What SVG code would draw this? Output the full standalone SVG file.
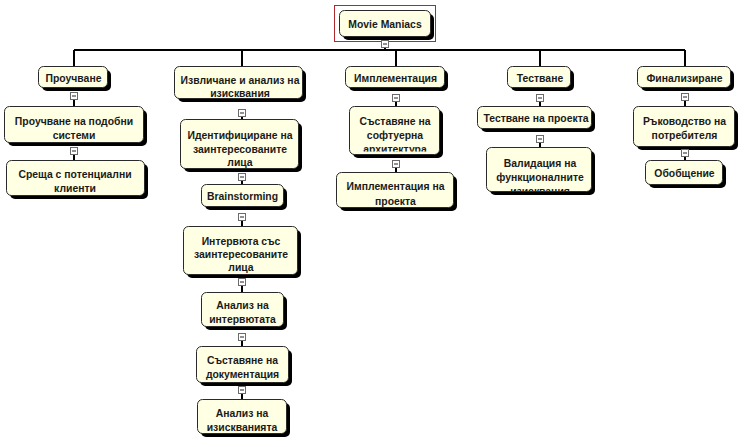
<svg xmlns="http://www.w3.org/2000/svg" width="748" height="447" viewBox="0 0 748 447">
<style>
.n{fill:#FFFFE3;stroke:#2a2a2a;stroke-width:1}
.s{fill:#000}
.t{font-family:"Liberation Sans",Arial,sans-serif;font-weight:bold;font-size:10.4px;fill:#1a1a1a;text-anchor:middle}
.c{stroke:#000;stroke-width:2;fill:none}
.cb{fill:#fff;stroke:#6a6a6a;stroke-width:1}
.cm{stroke:#222;stroke-width:1}
</style>
<defs>
<clipPath id="clipArch"><rect x="350" y="107" width="90" height="44.5"/></clipPath>
<clipPath id="clipVal"><rect x="487" y="148" width="105" height="43"/></clipPath>
</defs>
<rect width="748" height="447" fill="#fff"/>
<g id="connectors">
<path class="c" d="M385 46V50M74 50H685M74 50V67M242 50V67M396 50V67M540 50V67M685 50V67"/>
<path class="c" d="M74 99V107M74 154V161"/>
<path class="c" d="M242 116V120M242 180V185M242 220V227M242 284V293M242 340V347M242 393V400"/>
<path class="c" d="M396 101V107M396 167V173"/>
<path class="c" d="M540 101V107M540 142V148"/>
<path class="c" d="M685 100V107M685 156V161"/>
</g>
<g id="root">
<rect x="343" y="14" width="91" height="26" rx="5" class="s"/>
<rect x="339.5" y="10.5" width="91" height="26" rx="5" class="n"/>
<text x="385" y="27.5" class="t">Movie Maniacs</text>
<rect x="334.5" y="5.5" width="101" height="36" fill="none" stroke="#B0282E" stroke-width="1"/>
<rect x="381.5" y="40.5" width="7" height="7" class="cb"/><path class="cm" d="M383 44H387"/>
</g>
<g id="n1">
<rect x="42" y="70" width="69" height="21" rx="5" class="s"/>
<rect x="38.5" y="66.5" width="69" height="21" rx="5" class="n"/>
<text x="73.5" y="81.5" class="t">Проучване</text>
<rect x="70.5" y="92.5" width="7" height="7" class="cb"/><path class="cm" d="M72 96H76"/>
</g>
<g id="n1a">
<rect x="8" y="110" width="139" height="36" rx="5" class="s"/>
<rect x="4.5" y="106.5" width="139" height="36" rx="5" class="n"/>
<text x="74" y="124.5" class="t">Проучване на подобни</text>
<text x="74" y="138.5" class="t">системи</text>
<rect x="70.5" y="147.5" width="7" height="7" class="cb"/><path class="cm" d="M72 151H76"/>
</g>
<g id="n1b">
<rect x="10" y="164" width="138" height="35" rx="5" class="s"/>
<rect x="6.5" y="160.5" width="138" height="35" rx="5" class="n"/>
<text x="75" y="178" class="t">Среща с потенциални</text>
<text x="75" y="192" class="t">клиенти</text>
</g>
<g id="n2">
<rect x="178" y="70" width="128" height="32" rx="5" class="s"/>
<rect x="174.5" y="66.5" width="128" height="32" rx="5" class="n"/>
<text x="240" y="84" class="t">Извличане и анализ на</text>
<text x="240" y="97" class="t">изисквания</text>
<rect x="238.5" y="109.5" width="7" height="7" class="cb"/><path class="cm" d="M240 113H244"/>
</g>
<g id="n2a">
<rect x="184" y="123" width="118" height="49" rx="5" class="s"/>
<rect x="180.5" y="119.5" width="118" height="49" rx="5" class="n"/>
<text x="240" y="139" class="t">Идентифициране на</text>
<text x="240" y="152.5" class="t">заинтересованите</text>
<text x="240" y="166" class="t">лица</text>
<rect x="238.5" y="173.5" width="7" height="7" class="cb"/><path class="cm" d="M240 177H244"/>
</g>
<g id="n2b">
<rect x="205" y="188" width="82" height="22" rx="5" class="s"/>
<rect x="201.5" y="184.5" width="82" height="22" rx="5" class="n"/>
<text x="242.5" y="200" class="t">Brainstorming</text>
<rect x="238.5" y="213.5" width="7" height="7" class="cb"/><path class="cm" d="M240 217H244"/>
</g>
<g id="n2c">
<rect x="187" y="230" width="114" height="48" rx="5" class="s"/>
<rect x="183.5" y="226.5" width="114" height="48" rx="5" class="n"/>
<text x="241" y="245" class="t">Интервюта със</text>
<text x="241" y="258" class="t">заинтересованите</text>
<text x="241" y="271" class="t">лица</text>
<rect x="238.5" y="278.5" width="7" height="7" class="cb"/><path class="cm" d="M240 282H244"/>
</g>
<g id="n2d">
<rect x="205" y="296" width="82" height="34" rx="5" class="s"/>
<rect x="201.5" y="292.5" width="82" height="34" rx="5" class="n"/>
<text x="242.5" y="309" class="t">Анализ на</text>
<text x="242.5" y="323" class="t">интервютата</text>
<rect x="238.5" y="333.5" width="7" height="7" class="cb"/><path class="cm" d="M240 337H244"/>
</g>
<g id="n2e">
<rect x="200" y="350" width="92" height="36" rx="5" class="s"/>
<rect x="196.5" y="346.5" width="92" height="36" rx="5" class="n"/>
<text x="242.5" y="364" class="t">Съставяне на</text>
<text x="242.5" y="377.5" class="t">документация</text>
<rect x="238.5" y="386.5" width="7" height="7" class="cb"/><path class="cm" d="M240 390H244"/>
</g>
<g id="n2f">
<rect x="201" y="403" width="89" height="34" rx="5" class="s"/>
<rect x="197.5" y="399.5" width="89" height="34" rx="5" class="n"/>
<text x="242" y="417" class="t">Анализ на</text>
<text x="242" y="431" class="t">изискванията</text>
</g>
<g id="n3">
<rect x="349" y="70" width="99" height="21" rx="5" class="s"/>
<rect x="345.5" y="66.5" width="99" height="21" rx="5" class="n"/>
<text x="395.5" y="81.5" class="t">Имплементация</text>
<rect x="392.5" y="94.5" width="7" height="7" class="cb"/><path class="cm" d="M394 98H398"/>
</g>
<g id="n3a">
<rect x="353" y="110" width="90" height="48" rx="5" class="s"/>
<rect x="349.5" y="106.5" width="90" height="48" rx="5" class="n"/>
<g clip-path="url(#clipArch)">
<text x="395" y="125" class="t">Съставяне на</text>
<text x="395" y="139" class="t">софтуерна</text>
<text x="395" y="153" class="t">архитектура</text>
</g>
<rect x="392.5" y="160.5" width="7" height="7" class="cb"/><path class="cm" d="M394 164H398"/>
</g>
<g id="n3b">
<rect x="340" y="176" width="117" height="35" rx="5" class="s"/>
<rect x="336.5" y="172.5" width="117" height="35" rx="5" class="n"/>
<text x="395.5" y="190" class="t">Имплементация на</text>
<text x="395.5" y="204.5" class="t">проекта</text>
</g>
<g id="n4">
<rect x="511" y="70" width="63" height="21" rx="5" class="s"/>
<rect x="507.5" y="66.5" width="63" height="21" rx="5" class="n"/>
<text x="540" y="81.5" class="t">Тестване</text>
<rect x="536.5" y="94.5" width="7" height="7" class="cb"/><path class="cm" d="M538 98H542"/>
</g>
<g id="n4a">
<rect x="481" y="110" width="114" height="22" rx="5" class="s"/>
<rect x="477.5" y="106.5" width="114" height="22" rx="5" class="n"/>
<text x="536" y="122" class="t">Тестване на проекта</text>
<rect x="536.5" y="135.5" width="7" height="7" class="cb"/><path class="cm" d="M538 139H542"/>
</g>
<g id="n4b">
<rect x="490" y="151" width="105" height="44" rx="5" class="s"/>
<rect x="486.5" y="147.5" width="105" height="44" rx="5" class="n"/>
<g clip-path="url(#clipVal)">
<text x="540" y="167" class="t">Валидация на</text>
<text x="540" y="181" class="t">функционалните</text>
<text x="540" y="194.5" class="t">изисквания</text>
</g>
</g>
<g id="n5">
<rect x="641" y="70" width="93" height="21" rx="5" class="s"/>
<rect x="637.5" y="66.5" width="93" height="21" rx="5" class="n"/>
<text x="684.5" y="81.5" class="t">Финализиране</text>
<rect x="681.5" y="93.5" width="7" height="7" class="cb"/><path class="cm" d="M683 97H687"/>
</g>
<g id="n5a">
<rect x="637" y="110" width="101" height="40" rx="5" class="s"/>
<rect x="633.5" y="106.5" width="101" height="40" rx="5" class="n"/>
<text x="684.5" y="124.5" class="t">Ръководство на</text>
<text x="684.5" y="139" class="t">потребителя</text>
<rect x="681.5" y="149.5" width="7" height="7" class="cb"/><path class="cm" d="M683 153H687"/>
</g>
<g id="n5b">
<rect x="649" y="164" width="77" height="24" rx="5" class="s"/>
<rect x="645.5" y="160.5" width="77" height="24" rx="5" class="n"/>
<text x="684.5" y="177" class="t">Обобщение</text>
</g>
</svg>
